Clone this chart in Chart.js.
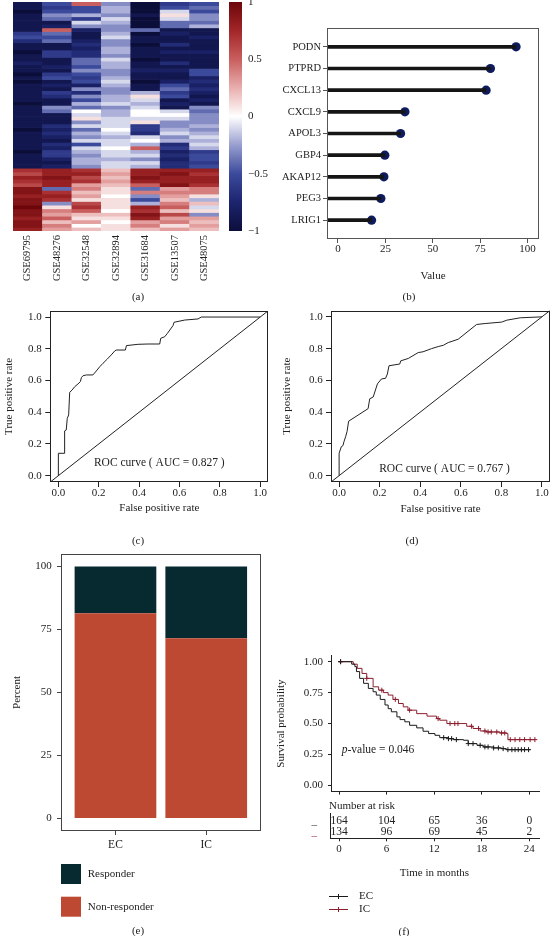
<!DOCTYPE html>
<html><head><meta charset="utf-8">
<script src="https://cdn.jsdelivr.net/npm/chart.js@4.4.1/dist/chart.umd.min.js"></script>
<style>
html,body{margin:0;padding:0;background:#fff;}
#wrap{position:relative;width:552px;height:936px;overflow:hidden;background:#fff;}
#wrap canvas{position:absolute;left:0;top:0;}
.cap{position:absolute;font-family:'Liberation Serif',serif;font-size:11px;color:#222;transform:translate(-50%,-50%);white-space:nowrap;}
</style></head><body>
<div id="wrap">
<canvas id="cHeat" width="552" height="936"></canvas>
<canvas id="cBar" width="552" height="936"></canvas>
<canvas id="cLolli" width="552" height="936"></canvas>
<canvas id="cRoc1" width="552" height="936"></canvas>
<canvas id="cRoc2" width="552" height="936"></canvas>
<canvas id="cResp" width="552" height="936"></canvas>
<canvas id="cKm" width="552" height="936"></canvas>
<canvas id="cRisk" width="552" height="936"></canvas>
<div class="cap" style="left:138px;top:296px">(a)</div>
<div class="cap" style="left:409px;top:296px">(b)</div>
<div class="cap" style="left:138px;top:540px">(c)</div>
<div class="cap" style="left:412px;top:540px">(d)</div>
<div class="cap" style="left:138px;top:930px">(e)</div>
<div class="cap" style="left:404px;top:931px">(f)</div>
</div>
<script>
// ================= DATA =================
// (a) heatmap: one array per dataset column, rows top -> bottom
const heatLabels = ['GSE69795','GSE48276','GSE32548','GSE32894','GSE31684','GSE13507','GSE48075'];
const GSE69795 = [-0.9,-0.9,-1,-0.9,-0.9,-0.9,-0.9,-0.9,
 -0.6,-0.5,-0.7,
 -0.9,-0.9,-1,-0.9,-0.9,-0.8,-0.9,-0.9,-1,-0.9,
 -1,-0.9,-0.9,-0.9,-0.9,-0.9,-1,-0.9,-0.9,-0.9,
 -0.9,-0.9,-0.9,-1,-0.9,-0.9,-0.9,-0.9,-0.9,-1,
 -0.9,-0.9,-0.9,-0.9,
 0.7,0.6,0.8,0.7,0.6,
 0.9,0.9,0.8,0.9,0.9,1,0.9,0.9,0.8,0.9,0.9,0.8];
const GSE48276 = [-0.5,-0.6,-0.5,-0.3,-0.4,-0.9,-0.8,0.5,-0.4,-0.5,
 -0.4,-0.9,-0.9,-0.6,-0.6,-0.9,-0.9,-0.8,-0.9,-0.6,
 -0.5,-0.9,-0.8,-0.9,-0.6,-0.7,-0.9,-0.9,-0.3,-0.4,
 -0.9,-0.9,-0.9,-0.7,-0.8,-0.7,-0.8,-0.9,-0.7,-0.8,
 -0.6,-0.6,-0.8,-0.9,-0.8,0.8,0.8,0.9,0.8,0.8,
 -0.4,0.7,0.8,0.7,-0.3,0.1,0.4,0.3,0.5,0.2,
 0.4,0.3];
const GSE32548 = [0.5,-0.5,-0.5,-0.2,-0.6,-0.1,-0.3,-0.8,-0.9,-0.9,
 -0.8,-0.7,-0.8,-0.7,-0.7,-0.4,-0.4,-0.5,-0.3,-0.5,
 -0.6,-0.5,-0.8,-0.3,-0.7,-0.3,-0.5,-0.2,-0.4,0,
 -0.1,0.1,-0.3,-0.1,-0.4,-0.2,-0.3,-0.1,-0.5,-0.1,
 -0.2,-0.3,-0.2,-0.2,-0.3,0.7,0.8,0.6,0.7,0.3,
 0.4,0.2,0.3,0.1,0.6,0.7,0.5,0.2,0.1,0.3,
 0,0.2];
const GSE32894 = [-0.3,-0.2,-0.2,-0.3,-0.1,-0.2,-0.3,-0.3,-0.2,-0.1,
 -0.3,-0.3,-0.2,-0.2,-0.3,-0.1,-0.2,-0.2,-0.3,-0.3,
 -0.2,-0.1,-0.2,-0.3,-0.3,-0.2,-0.2,-0.1,-0.3,-0.2,
 -0.2,-0.1,
 -0.1,-0.1,0,-0.1,-0.2,-0.1,-0.1,0,-0.1,-0.1,-0.2,-0.1,-0.1,
 0.2,0.3,0.2,0.3,0.2,0.1,
 0.1,0,0.1,0.1,0.1,0,0.2,0.1,0,0.1,0.1];
const GSE31684 = [-1,-1,-1,-0.9,-1,-1,-1,-0.4,
 -1,-0.9,-0.9,-1,-0.9,-0.9,-0.9,-1,-0.9,-0.9,-0.8,-0.9,-0.9,-1,-0.9,-0.9,
 -0.2,0.1,-0.1,-0.2,-0.1,
 0,0,-0.1,0.1,
 -0.6,-0.6,-0.7,
 -0.1,0,-0.2,
 0.5,
 -0.2,-0.1,-0.3,-0.1,-0.2,
 0.8,0.8,0.9,0.8,
 0.5,-0.4,0.4,
 -0.3,-0.5,-0.2,
 0.8,0.7,0.9,0.8,
 0.3,0.4,0.2];
const GSE13507 = [-0.6,-0.5,-0.1,0.1,-0.1,-0.4,-0.4,
 -0.9,-0.8,-0.9,-0.9,-0.7,-0.9,-0.8,-0.9,-0.9,-0.7,-0.9,-0.8,-0.9,-0.9,-0.8,
 -0.5,-0.4,-0.6,-0.5,
 -0.9,-0.8,-0.9,
 -0.1,0,-0.1,
 -0.3,-0.3,
 -0.2,-0.1,-0.3,-0.2,
 -0.7,-0.6,-0.8,-0.7,-0.8,-0.7,-0.7,
 0.8,0.9,0.8,0.8,0.9,
 0.3,0.4,0.3,0.2,
 0.4,0.5,0.2,0.6,0.3,0.4,0.1,0.3];
const GSE48075 = [-0.5,-0.4,-0.5,-0.3,-0.3,-0.4,-0.2,
 -0.9,-0.9,-0.8,-0.9,-0.9,-0.9,-0.8,-0.9,-0.9,-0.9,-0.9,
 -0.5,-0.5,
 -0.8,-0.7,-0.8,-0.7,-0.8,
 -0.9,-0.8,-0.9,
 -0.3,-0.4,-0.3,-0.3,
 -0.3,-0.2,-0.3,
 -0.2,-0.1,-0.2,-0.1,-0.2,
 -0.6,-0.5,-0.5,-0.6,-0.5,
 0.8,0.7,0.8,0.8,0.7,
 0.4,0.4,
 0.1,-0.2,0.2,-0.1,0.1,-0.3,
 0.3,0.2,0.3,0.2];
const colorbarTicks = [-1,-0.5,0,0.5,1];

// (b) lollipop
const genes = ['PODN','PTPRD','CXCL13','CXCL9','APOL3','GBP4','AKAP12','PEG3','LRIG1'];
const geneImportance = [93.9,80.4,78.1,35.3,33.0,24.7,24.2,22.6,17.7];
const valueTicks = [0,25,50,75,100];

// (c),(d) ROC curves
const roc1Fpr = [0,0,0.031,0.031,0.031,0.039,0.044,0.051,0.056,0.068,0.081,0.097,0.109,0.114,0.122,0.139,0.171,0.188,0.205,0.221,0.243,0.262,0.279,0.287,0.332,0.337,0.394,0.444,0.502,0.507,0.527,0.540,0.568,0.573,0.626,0.692,0.708,1.0];
const roc1Tpr = [0,0.141,0.141,0.151,0.282,0.288,0.361,0.383,0.525,0.540,0.561,0.578,0.593,0.618,0.630,0.635,0.635,0.660,0.687,0.708,0.736,0.761,0.786,0.792,0.792,0.820,0.828,0.830,0.830,0.866,0.876,0.897,0.946,0.967,0.981,0.988,1.0,1.0];
const roc2Fpr = [0,0,0.011,0.019,0.024,0.032,0.039,0.047,0.143,0.151,0.168,0.189,0.209,0.229,0.238,0.246,0.299,0.304,0.341,0.390,0.414,0.456,0.489,0.514,0.538,0.587,0.678,0.720,0.802,0.827,0.893,1.0];
const roc2Tpr = [0,0.141,0.183,0.189,0.214,0.245,0.277,0.343,0.422,0.484,0.495,0.578,0.609,0.613,0.640,0.692,0.703,0.723,0.738,0.775,0.780,0.800,0.813,0.821,0.838,0.859,0.952,0.958,0.967,0.979,0.994,1.0];
const rateTicks = [0,0.2,0.4,0.6,0.8,1.0];
const aucText1 = 'ROC curve ( AUC = 0.827 )';
const aucText2 = 'ROC curve ( AUC = 0.767 )';

// (e) response bars
const respGroups = ['EC','IC'];
const responderPct = [18.5,28.5];
const nonResponderPct = [81.5,71.5];
const percentTicks = [0,25,50,75,100];

// (f) Kaplan-Meier
const kmGroups = ['EC','IC'];
const ecTime = [0,1.6,2.0,2.2,2.6,3.1,3.7,4.3,4.7,5.2,5.8,6.2,6.6,7.3,7.7,8.3,8.9,9.8,10.6,11.3,12.1,12.7,13.8,14.4,15.7,16.3,17.4,18.2,19.5,20.5,21.1,24.1];
const ecSurv = [1.0,0.98,0.96,0.92,0.865,0.825,0.784,0.757,0.73,0.695,0.65,0.62,0.595,0.554,0.532,0.514,0.486,0.465,0.438,0.419,0.405,0.386,0.378,0.37,0.365,0.338,0.324,0.311,0.303,0.297,0.289,0.289];
const icTime = [0,1.8,2.3,2.9,3.5,4.3,5.0,5.6,6.2,6.8,7.5,8.1,8.7,9.8,11.1,12.3,12.7,13.6,15.3,16.1,16.9,17.8,18.6,20.3,21.1,21.3,24.7];
const icSurv = [1.0,0.98,0.946,0.905,0.865,0.797,0.77,0.75,0.73,0.695,0.662,0.635,0.608,0.58,0.56,0.54,0.527,0.5,0.5,0.478,0.46,0.44,0.432,0.424,0.419,0.37,0.37];
const ecCensorTime = [0.2,13.2,13.8,14.2,14.8,16.3,16.9,17.8,18.4,18.8,19.5,20.1,20.7,21.3,21.8,22.2,22.6,23.0,23.4,23.9];
const ecCensorSurv = [1.0,0.386,0.378,0.378,0.37,0.338,0.338,0.324,0.311,0.311,0.303,0.303,0.297,0.289,0.289,0.289,0.289,0.289,0.289,0.289];
const icCensorTime = [0.2,3.5,5.4,7.1,8.9,12.5,14.0,14.6,15.0,16.7,17.6,18.4,18.8,19.2,19.9,20.5,20.9,21.6,22.2,22.8,23.4,24.1,24.7];
const icCensorSurv = [1.0,0.865,0.77,0.695,0.608,0.54,0.5,0.5,0.5,0.478,0.46,0.44,0.432,0.432,0.432,0.424,0.424,0.37,0.37,0.37,0.37,0.37,0.37];
const survTicks = [0,0.25,0.5,0.75,1.0];
const monthTicks = [0,6,12,18,24];
const riskTimes = [0,6,12,18,24];
const ecAtRisk = [164,104,65,36,0];
const icAtRisk = [134,96,69,45,2];
const pValueText = '0.046';

// ================= SETUP =================
const FONT = "'Liberation Serif', 'Times New Roman', serif";
Chart.defaults.font.family = FONT;
Chart.defaults.font.size = 11;
Chart.defaults.color = '#222';
Chart.defaults.animation = false;
Chart.defaults.responsive = false;
Chart.defaults.maintainAspectRatio = false;
Chart.defaults.devicePixelRatio = 1;
Chart.defaults.events = [];
Chart.defaults.plugins.legend.display = false;
Chart.defaults.plugins.tooltip.enabled = false;

const W = 552, H = 936;
function fitTo(size){ return s => { if (s.isHorizontal()) s.height = size; else s.width = size; s.paddingLeft = 0; s.paddingRight = 0; s.paddingTop = 0; s.paddingBottom = 0; }; }
function setTicks(vals){ return s => { s.ticks = vals.map(v => ({value: v})); }; }
function pad(box, yW, xH){ return {left: box.l - yW, top: box.t, right: W - box.r, bottom: H - box.b - xH}; }
function gridTicks(color, len){ return {display:true, drawOnChartArea:false, drawTicks:true, tickLength:len, color:color, tickColor:color, lineWidth:1, offset:false}; }
const noGrid = {display:false, drawTicks:false};
function framePlugin(color){ return { id:'frame', afterDatasetsDraw(chart){
  const a = chart.chartArea, c = chart.ctx;
  const l = Math.round(a.left)+0.5, t = Math.round(a.top)+0.5, r = Math.round(a.right)-0.5, b = Math.round(a.bottom)-0.5;
  c.save(); c.strokeStyle = color; c.lineWidth = 1; c.strokeRect(l, t, r-l, b-t); c.restore(); } }; }
const dataTextPlugin = { id:'dataText', afterDatasetsDraw(chart, args, opts){
  const c = chart.ctx;
  (opts.items || []).forEach(it => {
    const x = chart.scales.x.getPixelForValue(it.x), y = chart.scales.y.getPixelForValue(it.y);
    c.save(); c.fillStyle = it.color || '#222'; c.textBaseline = 'middle'; c.textAlign = 'left';
    const fonts = it.parts.map(p => (p.italic ? 'italic ' : '') + it.size + 'px ' + FONT);
    let total = 0; it.parts.forEach((p,i) => { c.font = fonts[i]; total += c.measureText(p.text).width; });
    let cx = it.align === 'center' ? x - total/2 : x;
    it.parts.forEach((p,i) => { c.font = fonts[i]; c.fillText(p.text, cx, y); cx += c.measureText(p.text).width; });
    c.restore(); }); } };

// colour map
const cmapStops = [[-1,[12,14,58]],[-0.75,[28,36,110]],[-0.5,[60,74,156]],[-0.25,[152,158,207]],[0,[255,255,255]],[0.25,[233,174,174]],[0.5,[201,94,94]],[0.75,[162,38,40]],[1,[108,6,10]]];
function cmap(v){ v = Math.max(-1, Math.min(1, v));
  for (let i = 1; i < cmapStops.length; i++){ const [v0,c0] = cmapStops[i-1], [v1,c1] = cmapStops[i];
    if (v <= v1){ const t = (v - v0)/(v1 - v0); return 'rgb(' + c0.map((c,k) => Math.round(c + (c1[k]-c)*t)).join(',') + ')'; } }
  return 'rgb(108,6,10)'; }

// ================= (a) HEATMAP =================
const heatColumns = [GSE69795,GSE48276,GSE32548,GSE32894,GSE31684,GSE13507,GSE48075];
const nRows = GSE69795.length;
const heatDatasets = [];
for (let r = 0; r < nRows; r++){
  heatDatasets.push({ data: heatColumns.map(() => 1), backgroundColor: heatColumns.map(col => cmap(col[r])),
    borderWidth: 0, barPercentage: 1, categoryPercentage: 1, stack: 'heat' });
}
const boxA = {l:13, t:2, r:219, b:231};
new Chart(document.getElementById('cHeat'), {
  type: 'bar',
  data: { labels: heatLabels, datasets: heatDatasets },
  options: { layout: {padding: pad(boxA, 0, 60)},
    scales: {
      x: { stacked: true, offset: true, grid: noGrid, border: {display:false},
           ticks: {minRotation:90, maxRotation:90, autoSkip:false, padding:4, font:{size:10.5}}, afterFit: fitTo(60) },
      y: { display: false, stacked: true, min: 0, max: nRows, reverse: true }
    } }
});

// colour bar
const boxCb = {l:229, t:2, r:242, b:231};
new Chart(document.getElementById('cBar'), {
  type: 'bar',
  data: { labels: ['scale'], datasets: [{ data: [[colorbarTicks[0], colorbarTicks[colorbarTicks.length-1]]],
    backgroundColor: (ctx) => { const ch = ctx.chart; if (!ch.chartArea) return '#fff'; const ys = ch.scales.y;
      const g = ch.ctx.createLinearGradient(0, ys.getPixelForValue(-1), 0, ys.getPixelForValue(1));
      cmapStops.forEach(([v,c]) => g.addColorStop((v+1)/2, 'rgb(' + c.join(',') + ')')); return g; },
    borderWidth: 0, barPercentage: 1, categoryPercentage: 1 }] },
  options: { layout: {padding: {left: boxCb.l, top: boxCb.t, right: W - boxCb.r - 30, bottom: H - boxCb.b}},
    scales: {
      x: { display: false },
      y: { position: 'right', min: -1, max: 1, afterBuildTicks: setTicks(colorbarTicks), grid: noGrid, border: {display:false},
           ticks: { padding: 6, font:{size:11}, callback: v => v < 0 ? '\u2212' + Math.abs(v) : String(v) }, afterFit: fitTo(30) }
    } }
});

// ================= (b) LOLLIPOP =================
const boxB = {l:327, t:28, r:539, b:239};
const lolliMin = -5.8, lolliMax = 106;
const lolliPts = genes.map((g,i) => ({x: geneImportance[i], y: genes.length - i}));
new Chart(document.getElementById('cLolli'), {
  type: 'scatter',
  data: { datasets: [
    { type:'bar', indexAxis:'y', data: lolliPts, base: lolliMin, backgroundColor:'#151515', barThickness:3, borderWidth:0 },
    { type:'scatter', data: lolliPts, pointRadius:4.6, backgroundColor:'#0e1b5c', borderWidth:0 }
  ] },
  options: { layout: {padding: pad(boxB, 51, 44)},
    scales: {
      x: { type:'linear', min: lolliMin, max: lolliMax, afterBuildTicks: setTicks(valueTicks), grid: gridTicks('#555',4), border:{display:false},
           ticks: {padding:0}, title: {display:true, text:'Value', padding:{top:0,bottom:0}}, afterFit: fitTo(44) },
      y: { type:'linear', min: 0.672, max: 9.328, afterBuildTicks: setTicks(genes.map((g,i) => i+1)), grid: gridTicks('#555',4), border:{display:false},
           ticks: {padding:2, font:{size:10.5}, callback: v => genes[genes.length - v]}, afterFit: fitTo(51) }
    } },
  plugins: [framePlugin('#555')]
});

// ================= (c),(d) ROC =================
function makeRoc(id, box, yW, xH, titlePadTop, tickPad, fpr, tpr, text, tx, ty){
  return new Chart(document.getElementById(id), {
    type: 'scatter',
    data: { datasets: [
      { type:'line', data: fpr.map((f,i) => ({x:f, y:tpr[i]})), borderColor:'#222', borderWidth:1, pointRadius:0, tension:0, fill:false },
      { type:'line', data: [{x:-0.04,y:-0.04},{x:1.04,y:1.04}], borderColor:'#222', borderWidth:1, pointRadius:0, fill:false }
    ] },
    options: { layout: {padding: pad(box, yW, xH)},
      plugins: { dataText: { items: [{x: tx, y: ty, align:'center', size: 11.5, parts:[{text: text}]}] } },
      scales: {
        x: { type:'linear', min:-0.04, max:1.04, afterBuildTicks: setTicks(rateTicks), grid: gridTicks('#222',5), border:{display:false},
             ticks:{padding:0, callback: v => v.toFixed(1)}, title:{display:true, text:'False positive rate', padding:{top:0,bottom:0}}, afterFit: fitTo(xH) },
        y: { type:'linear', min:-0.04, max:1.04, afterBuildTicks: setTicks(rateTicks), grid: gridTicks('#222',5), border:{display:false},
             ticks:{padding: tickPad, callback: v => v.toFixed(1)}, title:{display:true, text:'True positive rate', padding:{top:titlePadTop,bottom:0}}, afterFit: fitTo(yW) }
      } },
    plugins: [framePlugin('#222'), dataTextPlugin]
  });
}
makeRoc('cRoc1', {l:50.3, t:310.7, r:268.3, b:482}, 50, 33, 2.6, 3.6, roc1Fpr, roc1Tpr, aucText1, 0.5, 0.08);
makeRoc('cRoc2', {l:331, t:310.5, r:550, b:482}, 55, 34, 4.4, 3.3, roc2Fpr, roc2Tpr, aucText2, 0.52, 0.04);

// ================= (e) RESPONSE =================
const boxE = {l:61, t:554, r:260.7, b:831};
const respLegendPlugin = { id:'respLegend', afterDraw(chart){
  const c = chart.ctx; const ds = chart.data.datasets.slice().reverse();
  c.save(); c.font = '11px ' + FONT; c.textBaseline = 'middle'; c.textAlign = 'left';
  ds.forEach((d, i) => { const y0 = 864 + i * 32.7;
    c.fillStyle = d.backgroundColor; c.fillRect(61, y0, 20, 20);
    c.fillStyle = '#222'; c.fillText(d.label, 87.7, y0 + 10); });
  c.restore(); } };
new Chart(document.getElementById('cResp'), {
  type: 'bar',
  data: { datasets: [
    { label:'Non-responder', data: respGroups.map((g,i) => ({x:i+1, y:nonResponderPct[i]})), backgroundColor:'#bd4932', borderWidth:0, barPercentage:0.9, categoryPercentage:1 },
    { label:'Responder', data: respGroups.map((g,i) => ({x:i+1, y:responderPct[i]})), backgroundColor:'#062a30', borderWidth:0, barPercentage:0.9, categoryPercentage:1 }
  ] },
  options: { layout: {padding: pad(boxE, 61, 25)},
    scales: {
      x: { type:'linear', stacked:true, offset:false, min:0.4, max:2.6, afterBuildTicks: setTicks([1,2]), grid: gridTicks('#444',4), border:{display:false},
           ticks:{padding:3.4, font:{size:11.5}, callback: v => respGroups[v-1]}, afterFit: fitTo(25) },
      y: { type:'linear', stacked:true, min:-5, max:105, afterBuildTicks: setTicks(percentTicks), grid: gridTicks('#444',4), border:{display:false},
           ticks:{padding:5.3}, title:{display:true, text:'Percent', padding:{top:10.9,bottom:0}}, afterFit: fitTo(61) }
    } },
  plugins: [framePlugin('#444'), respLegendPlugin]
});

// ================= (f) KAPLAN-MEIER =================
const EC_COLOR = '#1a1a1a', IC_COLOR = '#8b1e2e';
const boxF = {l:331, t:655.5, r:539, b:791.6};
const kmMin = -1.009, kmMax = 25.22;
const kmLegendPlugin = { id:'kmLegend', afterDraw(chart){
  const c = chart.ctx; const lines = chart.data.datasets.filter(d => d.type === 'line');
  c.save(); c.font = '11px ' + FONT; c.textBaseline = 'middle'; c.textAlign = 'left';
  lines.forEach((d, i) => { const y = 896 + i * 13;
    c.strokeStyle = d.borderColor; c.lineWidth = 1;
    c.beginPath(); c.moveTo(329, y + 0.5); c.lineTo(348, y + 0.5); c.moveTo(338.5, y - 2); c.lineTo(338.5, y + 3); c.stroke();
    c.fillStyle = '#222'; c.fillText(d.label, 359, y); });
  c.restore(); } };
new Chart(document.getElementById('cKm'), {
  type: 'scatter',
  data: { datasets: [
    { type:'line', label: kmGroups[0], data: ecTime.map((t,i) => ({x:t, y:ecSurv[i]})), borderColor:EC_COLOR, borderWidth:1, stepped:true, pointRadius:0, fill:false },
    { type:'line', label: kmGroups[1], data: icTime.map((t,i) => ({x:t, y:icSurv[i]})), borderColor:IC_COLOR, borderWidth:1, stepped:true, pointRadius:0, fill:false },
    { type:'scatter', data: ecCensorTime.map((t,i) => ({x:t, y:ecCensorSurv[i]})), pointStyle:'cross', pointRadius:2.5, borderColor:EC_COLOR, backgroundColor:EC_COLOR, borderWidth:1 },
    { type:'scatter', data: icCensorTime.map((t,i) => ({x:t, y:icCensorSurv[i]})), pointStyle:'cross', pointRadius:2.5, borderColor:IC_COLOR, backgroundColor:IC_COLOR, borderWidth:1 }
  ] },
  options: { layout: {padding: pad(boxF, 61, 3)},
    plugins: { dataText: { items: [{x: 0.34, y: 0.286, align:'left', size: 11.5, parts:[{text:'p', italic:true},{text:'-value = ' + pValueText}]}] } },
    scales: {
      x: { type:'linear', min:kmMin, max:kmMax, afterBuildTicks: setTicks(monthTicks), grid: gridTicks('#222',3), border:{display:true, color:'#222'},
           ticks:{display:false}, afterFit: fitTo(3) },
      y: { type:'linear', min:-0.05, max:1.05, afterBuildTicks: setTicks(survTicks), grid: gridTicks('#222',3), border:{display:true, color:'#222'},
           ticks:{padding:5, callback: v => v.toFixed(2)}, title:{display:true, text:'Survival probability', padding:{top:4.4,bottom:0}}, afterFit: fitTo(61) }
    } },
  plugins: [dataTextPlugin, kmLegendPlugin]
});

// risk table
const boxR = {l:330, t:813, r:539, b:838.3};
const riskMin = -1.135;
const riskPlugin = { id:'riskText', afterDatasetsDraw(chart){
  const c = chart.ctx; c.save(); c.font = '11.5px ' + FONT; c.fillStyle = '#222'; c.textBaseline = 'middle'; c.textAlign = 'center';
  chart.data.datasets.forEach((d, di) => { const meta = chart.getDatasetMeta(di);
    meta.data.forEach((el, i) => { c.fillText(String(d.data[i].n), el.x, el.y); }); });
  c.textAlign = 'left'; c.font = '11px ' + FONT; c.fillText('Number at risk', chart.chartArea.left - 1, chart.chartArea.top - 7);
  c.restore(); } };
new Chart(document.getElementById('cRisk'), {
  type: 'scatter',
  data: { datasets: [
    { label: kmGroups[0], data: riskTimes.map((t,i) => ({x:t, y:2, n: ecAtRisk[i]})), pointRadius:0 },
    { label: kmGroups[1], data: riskTimes.map((t,i) => ({x:t, y:1, n: icAtRisk[i]})), pointRadius:0 }
  ] },
  options: { layout: {padding: pad(boxR, 54, 41.3)},
    scales: {
      x: { type:'linear', min:riskMin, max:kmMax, afterBuildTicks: setTicks(monthTicks), grid: gridTicks('#222',3), border:{display:true, color:'#222'},
           ticks:{padding:1}, title:{display:true, text:'Time in months', padding:{top:0,bottom:0}}, afterFit: fitTo(41.3) },
      y: { type:'linear', min:0.44, max:2.68, afterBuildTicks: setTicks([1,2]), grid: noGrid, border:{display:true, color:'#222'},
           ticks:{padding:13, font:{size:11}, callback: () => '_', color: ctx => ctx.tick && ctx.tick.value === 2 ? EC_COLOR : IC_COLOR}, afterFit: fitTo(54) }
    } },
  plugins: [riskPlugin]
});
</script>
</body></html>
